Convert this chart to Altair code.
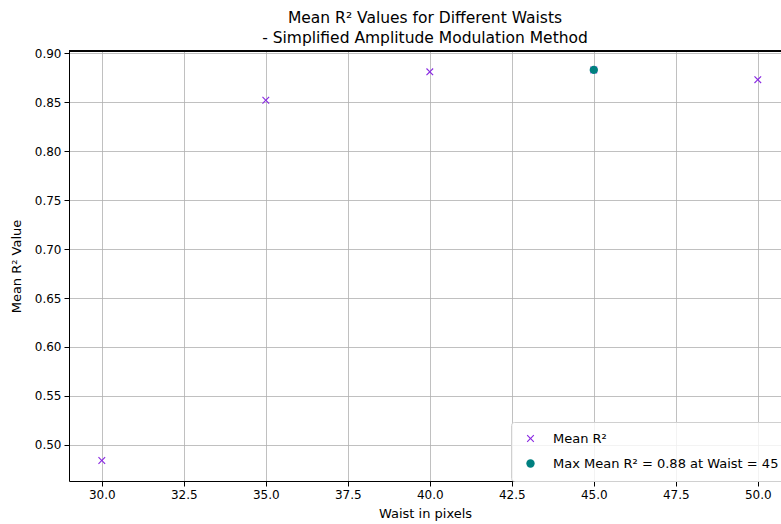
import altair as alt
import pandas as pd

# ---- data ----
waists = [30, 35, 40, 45, 50]
mean_r2 = [0.484, 0.852, 0.881, 0.883, 0.873]
max_waist = [45]
max_r2 = [0.883]
series_names = ["Mean R²", "Max Mean R² = 0.88 at Waist = 45"]
x_ticks = [30.0, 32.5, 35.0, 37.5, 40.0, 42.5, 45.0, 47.5, 50.0]
y_ticks = [0.50, 0.55, 0.60, 0.65, 0.70, 0.75, 0.80, 0.85, 0.90]

rows = [{"waist": w, "r2": r, "series": series_names[0]} for w, r in zip(waists, mean_r2)]
rows += [{"waist": w, "r2": r, "series": series_names[1]} for w, r in zip(max_waist, max_r2)]
df = pd.DataFrame(rows)

FONT = "DejaVu Sans"
W, H = 712, 430
X_PATH = ("M-1,-0.78L-0.78,-1L0,-0.22L0.78,-1L1,-0.78L0.22,0L1,0.78L0.78,1"
          "L0,0.22L-0.78,1L-1,0.78L-0.22,0Z")

legend = alt.Legend(title=None, orient="none", legendX=442, legendY=371, labelLimit=0)

points = alt.Chart(df).mark_point(filled=True, opacity=1).encode(
    x=alt.X("waist:Q",
            scale=alt.Scale(domain=[29, 29 + W / 32.8], nice=False, zero=False),
            axis=alt.Axis(title="Waist in pixels", values=x_ticks, format=".1f",
                          grid=True)),
    y=alt.Y("r2:Q",
            scale=alt.Scale(domain=[0.4631, 0.9023], nice=False, zero=False),
            axis=alt.Axis(title="Mean R² Value", values=y_ticks, format=".2f",
                          grid=True)),
    color=alt.Color("series:N",
                    scale=alt.Scale(domain=series_names, range=["#8A2BE2", "#008080"]),
                    legend=legend),
    shape=alt.Shape("series:N",
                    scale=alt.Scale(domain=series_names, range=[X_PATH, "circle"]),
                    legend=legend),
    size=alt.Size("series:N",
                  scale=alt.Scale(domain=series_names, range=[56, 70]),
                  legend=None),
    order=alt.Order("series:N", sort="descending"),
)

top_rule = alt.Chart(df).mark_rule(color="black", strokeWidth=1).encode(
    x=alt.value(0), x2=alt.value(W), y=alt.value(0)
)

chart = alt.layer(points, top_rule).properties(
    width=W, height=H,
    autosize=alt.AutoSizeParams(type="none"),
    padding={"left": 69, "top": 51, "right": 0, "bottom": 43},
    title=alt.TitleParams(
        text=["Mean R² Values for Different Waists",
              "- Simplified Amplitude Modulation Method"],
        font=FONT, fontSize=15.5, fontWeight="normal", color="black",
        anchor="middle", offset=1, lineHeight=20,
    ),
).configure_view(stroke=None).configure_axis(
    labelFont=FONT, labelFontSize=12, labelColor="black",
    titleFont=FONT, titleFontSize=13, titleColor="black", titleFontWeight="normal",
    domainColor="black", domainWidth=1, tickColor="black", tickSize=5,
    labelPadding=3, gridColor="#b0b0b0", gridWidth=0.8,
).configure_axisX(titlePadding=7).configure_axisY(titlePadding=11).configure_legend(
    labelFont=FONT, labelFontSize=13, labelColor="black",
    fillColor="rgba(255,255,255,0.8)", strokeColor="#d0d0d0", cornerRadius=3,
    padding=10, rowPadding=11, symbolOffset=3, labelOffset=16, symbolStrokeWidth=0,
)

chart.save("out.html", embed_options={"renderer": "svg", "actions": False})
